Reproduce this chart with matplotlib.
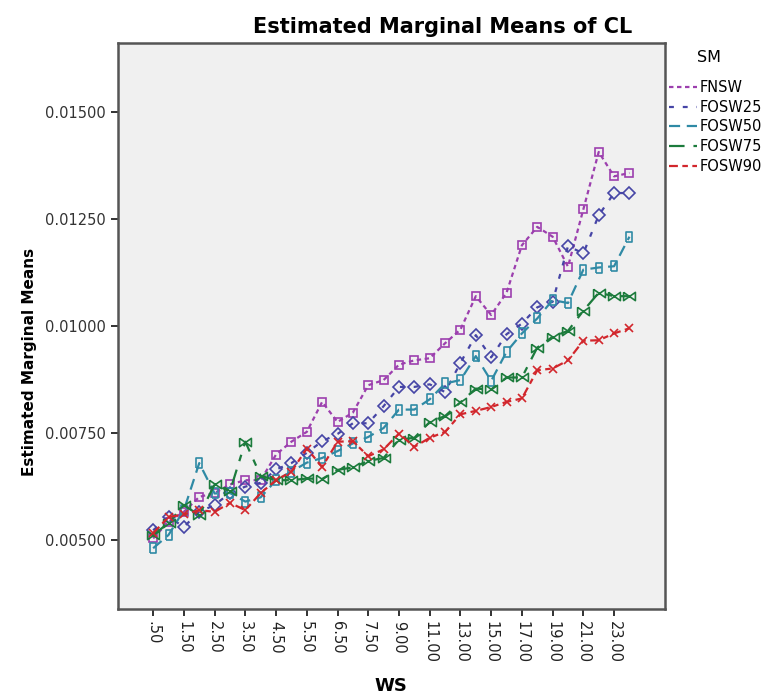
#!/usr/bin/env python3

import numpy as np
import matplotlib
matplotlib.use('Agg')
import matplotlib.pyplot as plt
from matplotlib.lines import Line2D

# WS levels (categorical axis), every other one gets a label
ws_levels = ['.50', '1.00', '1.50', '2.00', '2.50', '3.00', '3.50', '4.00',
             '4.50', '5.00', '5.50', '6.00', '6.50', '7.00', '7.50', '8.00',
             '9.00', '10.00', '11.00', '12.00', '13.00', '14.00', '15.00',
             '16.00', '17.00', '18.00', '19.00', '20.00', '21.00', '22.00',
             '23.00', '24.00']

fnsw = [0.00504, 0.00543, 0.00566, 0.00601, 0.00610, 0.00630, 0.00640, 0.00640,
        0.00700, 0.00730, 0.00753, 0.00823, 0.00776, 0.00798, 0.00862, 0.00874,
        0.00910, 0.00920, 0.00925, 0.00960, 0.00992, 0.01070, 0.01026, 0.01078,
        0.01189, 0.01232, 0.01209, 0.01139, 0.01273, 0.01407, 0.01350, 0.01358]

fosw25 = [0.00523, 0.00554, 0.00531, 0.00566, 0.00582, 0.00610, 0.00625, 0.00634,
          0.00665, 0.00680, 0.00704, 0.00731, 0.00748, 0.00773, 0.00773, 0.00813,
          0.00858, 0.00858, 0.00864, 0.00846, 0.00914, 0.00979, 0.00927, 0.00981,
          0.01006, 0.01044, 0.01057, 0.01187, 0.01170, 0.01259, 0.01311, 0.01311]

fosw50 = [0.00481, 0.00512, 0.00570, 0.00680, 0.00609, 0.00610, 0.00590, 0.00600,
          0.00640, 0.00660, 0.00681, 0.00692, 0.00708, 0.00726, 0.00741, 0.00762,
          0.00805, 0.00805, 0.00829, 0.00866, 0.00874, 0.00930, 0.00872, 0.00940,
          0.00983, 0.01018, 0.01061, 0.01054, 0.01132, 0.01137, 0.01140, 0.01209]

fosw75 = [0.00512, 0.00540, 0.00582, 0.00558, 0.00630, 0.00614, 0.00730, 0.00650,
          0.00640, 0.00640, 0.00644, 0.00643, 0.00664, 0.00670, 0.00685, 0.00692,
          0.00735, 0.00739, 0.00776, 0.00790, 0.00822, 0.00854, 0.00852, 0.00880,
          0.00880, 0.00950, 0.00975, 0.00989, 0.01036, 0.01078, 0.01070, 0.01070]

fosw90 = [0.00516, 0.00554, 0.00560, 0.00570, 0.00566, 0.00587, 0.00570, 0.00610,
          0.00640, 0.00660, 0.00714, 0.00671, 0.00730, 0.00731, 0.00696, 0.00712,
          0.00749, 0.00718, 0.00739, 0.00753, 0.00794, 0.00802, 0.00811, 0.00823,
          0.00831, 0.00897, 0.00901, 0.00920, 0.00966, 0.00967, 0.00983, 0.00995]

series_names = ['FNSW', 'FOSW25', 'FOSW50', 'FOSW75', 'FOSW90']
y_ticks = [0.005, 0.0075, 0.010, 0.0125, 0.015]

# SPSS style markers
bar_marker = [(-0.28, -0.5), (0.28, -0.5), (0.28, 0.5), (-0.28, 0.5), (-0.28, -0.5)]
bowtie_marker = [(-0.5, 0.35), (-0.5, -0.35), (0.5, 0.35), (0.5, -0.35), (-0.5, 0.35)]

styles = [
    dict(color='#9c3fae', ls=(0, (2.0, 1.6)), marker='s', ms=5.5),
    dict(color='#4645a6', ls=(0, (2.2, 4.0)), marker='D', ms=6),
    dict(color='#2f8aa5', ls=(0, (5.0, 3.0)), marker=bar_marker, ms=7.5),
    dict(color='#1c7b3c', ls=(0, (7.0, 4.0, 3.0, 4.0)), marker=bowtie_marker, ms=8.5),
    dict(color='#d2262c', ls=(0, (4.0, 2.0, 2.5, 2.0)), marker='x', ms=6),
]

fig = plt.figure(figsize=(7.65, 6.98), dpi=100)
ax = fig.add_axes([0.154, 0.1275, 0.715, 0.8105])
ax.set_facecolor('#f0f0f0')

x = np.arange(len(ws_levels))
all_series = [fnsw, fosw25, fosw50, fosw75, fosw90]
for name, vals, st in zip(series_names, all_series, styles):
    ax.plot(x, vals, color=st['color'], linestyle=st['ls'], linewidth=1.6,
            marker=st['marker'], markersize=st['ms'], markerfacecolor='none',
            markeredgecolor=st['color'], markeredgewidth=1.2, label=name)

ax.set_xlim(-2.3, len(ws_levels) + 1.3)
ax.set_ylim(0.00339, 0.01661)

ax.set_yticks(y_ticks)
ax.set_yticklabels(['%.5f' % v for v in y_ticks], fontsize=10.5, color='#333333')
ax.set_xticks(x[::2])
ax.set_xticklabels(ws_levels[::2], rotation=270, fontsize=10.5, color='#222222')
ax.tick_params(direction='out', length=5, width=1.3, color='#222222')

for side in ax.spines.values():
    side.set_color('#555555')
    side.set_linewidth(1.8)

ax.set_xlabel('WS', fontsize=13, fontweight='bold')
ax.xaxis.set_label_coords(0.5, -0.121)
ax.set_ylabel('Estimated Marginal Means', fontsize=11, fontweight='bold')
ax.yaxis.set_label_coords(-0.148, 0.436)
fig.text(0.578, 0.962, 'Estimated Marginal Means of CL', fontsize=15,
         fontweight='bold', ha='center', va='center')

# legend sits outside the plot frame, title drawn separately
fig.text(0.911, 0.918, 'SM', fontsize=11.5, ha='left', va='center')
handles = [Line2D([0], [0], color=st['color'], linestyle=st['ls'], linewidth=1.6)
           for st in styles]
ax.legend(handles, series_names, loc='upper left',
          bbox_to_anchor=(1.008, 0.935), frameon=False, fontsize=10.5,
          handlelength=1.9, handletextpad=0.2, labelspacing=0.32,
          borderaxespad=0.0, borderpad=0.0)

fig.savefig('out.png', dpi=100)
